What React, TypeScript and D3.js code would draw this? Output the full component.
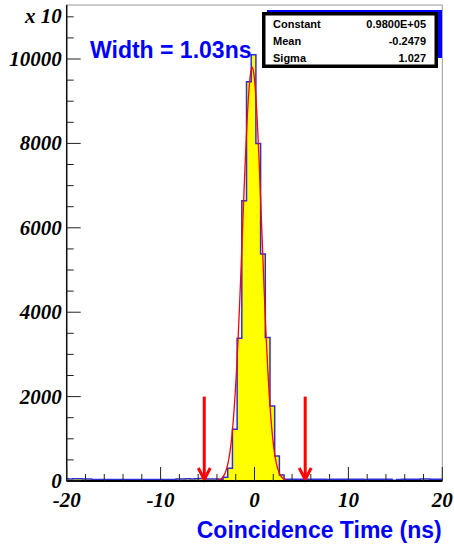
import React from "react";
import * as d3 from "d3";

// ---- data ----
const binStart = -20.35;
const binWidth = 0.5;
const counts = [
  55, 50, 54, 52, 50, 48,
  38, 36, 34, 37, 35, 33, 36, 38, 35, 34, 36, 37, 35, 33, 36, 38, 36, 35,
  45, 48, 52, 46, 55, 58, 50, 48, 45,
  40, 88, 300, 1225, 3380, 6640, 9460, 10100, 8000, 5380, 3400, 1780, 590, 140, 40,
  42, 40, 44, 41, 39, 43, 40, 42, 38, 41,
  40, 43, 39, 42, 40, 41, 38, 40, 42, 39,
  41, 40, 15,
  38, 40, 42, 39, 41, 48, 50, 40, 39, 41,
];
const fitConstant = 9800;
const fitMean = -0.2479;
const fitSigma = 1.027;
const fitRange = [-4, 4];
const arrowX = [-5.35, 5.4];
const arrowTop = 2000;
const xTicks = [-20, -10, 0, 10, 20];
const yTicks = [0, 2000, 4000, 6000, 8000, 10000];
const statsLabels = ["Constant", "Mean", "Sigma"];
const statsValues = ["0.9800E+05", "-0.2479", "1.027"];
const widthLabel = "Width = 1.03ns";
const xTitle = "Coincidence Time (ns)";
const yExponent = "x 10";

const W = 454, H = 547;
const L = 66.7, R = 442.3, T = 5, B = 481;

export default function App() {
  const x = d3.scaleLinear().domain([-20, 20]).range([L, R]);
  const y = d3.scaleLinear().domain([0, 11280]).range([B, T]);

  const stepPts: [number, number][] = [];
  counts.forEach((c, k) => {
    const x0 = binStart + k * binWidth;
    stepPts.push([x(x0), y(c)]);
    stepPts.push([x(x0 + binWidth), y(c)]);
  });
  const line = d3.line();
  const outline = line(stepPts) || "";
  const first = binStart;
  const last = binStart + counts.length * binWidth;
  const area = line([[x(first), y(0)], ...stepPts, [x(last), y(0)]]) + "Z";

  const fitPts: [number, number][] = d3.range(0, 101).map((i) => {
    const t = fitRange[0] + ((fitRange[1] - fitRange[0]) * i) / 100;
    const v = fitConstant * Math.exp(-0.5 * Math.pow((t - fitMean) / fitSigma, 2));
    return [x(t), y(v)];
  });
  const fitPath = line(fitPts) || "";

  const xMinor = d3.range(-20, 20.001, 2);
  const yMinor = d3.range(0, 11280, 500);

  const serif = "'Liberation Serif', 'Times New Roman', serif";
  const sans = "'Liberation Sans', Arial, Helvetica, sans-serif";

  return (
    <svg width={W} height={H} style={{ position: "absolute", left: 0, top: 0 }}>
      <rect x={0} y={0} width={W} height={H} fill="#fff" />
      <defs>
        <clipPath id="plot">
          <rect x={L} y={T} width={R - L} height={B - T} />
        </clipPath>
      </defs>
      {/* frame */}
      <rect x={L} y={T} width={R - L} height={B - T} fill="none" stroke="#999" strokeWidth={1} />
      <g clipPath="url(#plot)">
        <path d={area} fill="#ffff00" />
        <path d={outline} fill="none" stroke="#2e2ed6" strokeWidth={1.5} />
        <path d={fitPath} fill="none" stroke="#ff0000" strokeWidth={1.3} />
      </g>
      {/* arrows */}
      {arrowX.map((a, i) => (
        <g key={i} stroke="#ff0000" strokeWidth={3} fill="none">
          <line x1={x(a)} x2={x(a)} y1={y(arrowTop)} y2={y(0) - 1.5} />
          <polyline points={`${x(a) - 6},${y(0) - 13} ${x(a)},${y(0) - 1.5} ${x(a) + 6},${y(0) - 13}`} />
        </g>
      ))}
      {/* axes */}
      <line x1={L} x2={L} y1={T} y2={B} stroke="#111" strokeWidth={1.5} />
      <line x1={L} x2={R} y1={B} y2={B} stroke="#000" strokeWidth={2} />
      {xMinor.map((t) => (
        <line key={"xm" + t} x1={x(t)} x2={x(t)} y1={B} y2={B - (t % 10 === 0 ? 14 : 7)} stroke="#222" strokeWidth={1} />
      ))}
      {yMinor.map((t) => (
        <line key={"ym" + t} x1={L} x2={L + (t % 2000 === 0 ? 14 : 7)} y1={y(t)} y2={y(t)} stroke="#222" strokeWidth={1} />
      ))}
      {xTicks.map((t) => (
        <text key={"xl" + t} x={x(t)} y={506.5} textAnchor="middle" fontFamily={serif} fontWeight="bold" fontStyle="italic" fontSize={21}>
          {String(t)}
        </text>
      ))}
      {yTicks.map((t) => (
        <text key={"yl" + t} x={61.7} y={y(t) + 7} textAnchor="end" fontFamily={serif} fontWeight="bold" fontStyle="italic" fontSize={21}>
          {String(t)}
        </text>
      ))}
      <text x={61.7} y={23.3} textAnchor="end" fontFamily={serif} fontWeight="bold" fontStyle="italic" fontSize={21}>
        {yExponent}
      </text>
      {/* titles */}
      <text x={441.7} y={538.3} textAnchor="end" fontFamily={sans} fontWeight="bold" fontSize={23} fill="#0000ff">
        {xTitle}
      </text>
      <text x={90} y={58.3} fontFamily={sans} fontWeight="bold" fontSize={23} fill="#0000ff">
        {widthLabel}
      </text>
      {/* stats box */}
      <rect x={267} y={10} width={175} height={48} fill="#0000ff" />
      <rect x={263.75} y={13.75} width={172.5} height={52.5} fill="#fff" stroke="#000" strokeWidth={3.5} />
      {statsLabels.map((s, i) => (
        <g key={s}>
          <text x={273} y={28.2 + i * 17} fontFamily={sans} fontWeight="bold" fontSize={11}>
            {s}
          </text>
          <text x={426} y={28.2 + i * 17} textAnchor="end" fontFamily={sans} fontWeight="bold" fontSize={11}>
            {statsValues[i]}
          </text>
        </g>
      ))}
    </svg>
  );
}
